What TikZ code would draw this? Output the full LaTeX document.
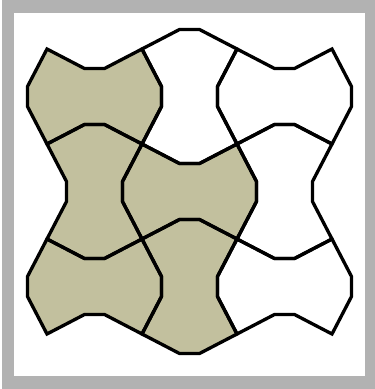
\documentclass[tikz,border=0pt]{standalone}
\usetikzlibrary{calc}
\definecolor{TileClr}{RGB}{194,192,158}
\definecolor{FrameClr}{RGB}{178,178,178}

% one tile, notches on top and bottom
\newcommand{\TileH}[3][]{%
\path[#1] (#2,#3) -- ++(37.5,19.5) -- ++(20,0) -- ++(37.5,-19.5)
  -- ++(19.5,37.5) -- ++(0,20) -- ++(-19.5,37.5)
  -- ++(-37.5,-19.5) -- ++(-20,0) -- ++(-37.5,19.5)
  -- ++(-19.5,-37.5) -- ++(0,-20) -- cycle;}
% the same tile turned, notches on the sides
\newcommand{\TileV}[3][]{%
\path[#1] (#2,#3) -- ++(37.5,-19.5) -- ++(20,0) -- ++(37.5,19.5)
  -- ++(-19.5,37.5) -- ++(0,20) -- ++(19.5,37.5)
  -- ++(-37.5,19.5) -- ++(-20,0) -- ++(-37.5,-19.5)
  -- ++(19.5,-37.5) -- ++(0,-20) -- cycle;}

\begin{document}
\begin{tikzpicture}[x=1pt,y=-1pt,
  tile/.style={line width=3.3pt,draw=black,line join=miter}]
\useasboundingbox (0,0) rectangle (375,389);

\fill[FrameClr] (2,0) rectangle (375,389);
\fill[white] (14,13) rectangle (365,376);

% fills
\TileH[fill=TileClr]{47}{49}
\TileV[fill=TileClr]{47}{144}
\TileH[fill=TileClr]{142}{144}
\TileH[fill=TileClr]{47}{239}
\TileV[fill=TileClr]{142}{239}

% outlines
\TileH[tile]{47}{49}
\TileV[tile]{142}{49}
\TileH[tile]{237}{49}

\TileV[tile]{47}{144}
\TileH[tile]{142}{144}
\TileV[tile]{237}{144}

\TileH[tile]{47}{239}
\TileV[tile]{142}{239}
\TileH[tile]{237}{239}

\end{tikzpicture}
\end{document}
